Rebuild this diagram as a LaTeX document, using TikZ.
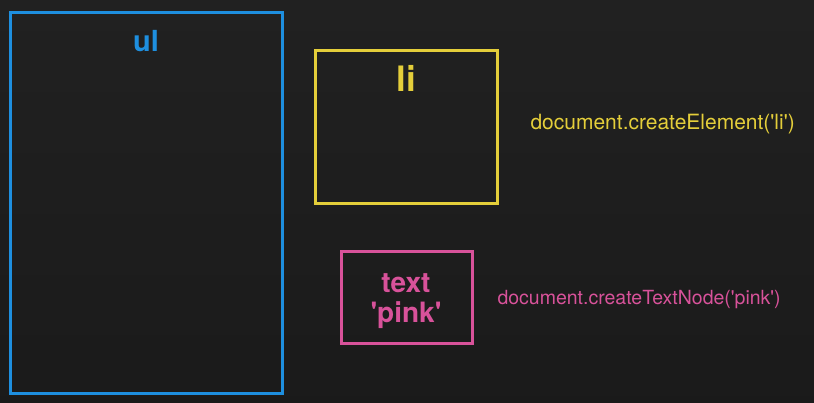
\documentclass[tikz,border=0pt]{standalone}
\usepackage{fontspec}
\setmainfont{TeX Gyre Heros}
\usepackage{tikz}

\definecolor{ulblue}{HTML}{1E8FDF}
\definecolor{liyellow}{HTML}{E4CE3A}
\definecolor{txtpink}{HTML}{D8529A}
\definecolor{board}{HTML}{212121}
\newcommand{\sq}{\textquotesingle}

\begin{document}
\begin{tikzpicture}[x=1pt, y=-1pt,
    box/.style={draw, line width=3pt, inner sep=0pt},
    tag/.style={font=\fontsize{#1}{#1}\selectfont\bfseries},
    call/.style={anchor=base west}]
  \useasboundingbox (0,0) rectangle (814,402);
  \shade[top color=board!100!white, bottom color=board!80!black] (0,0) rectangle (814,402);
        % boxes
        \node[box, ulblue, minimum width=272pt, minimum height=381pt] (ulbox) at (146,202.5) {};
        \node[box, liyellow, minimum width=182pt, minimum height=153pt] (libox) at (406,126.5) {};
        \node[box, txtpink, minimum width=131pt, minimum height=92pt] (textbox) at (406.5,297) {};
        % labels
        \node[ulblue, anchor=base, tag=29] (ul) at (146,51) {ul};
        \node[liyellow, anchor=base, tag=35] (li) at (406,91) {li};
        \node[txtpink, align=center, tag=28] (text) at (406,301) {text\\[2pt]\sq pink\sq};
        % calls
        \node[call, liyellow, font=\fontsize{21}{24}\selectfont] (mkli) at (527,129) {document.createElement(\sq li\sq)};
        \node[call, txtpink, font=\fontsize{19.5}{24}\selectfont] (mktext) at (494,304) {document.createTextNode(\sq pink\sq)};
      \end{tikzpicture}
\end{document}
